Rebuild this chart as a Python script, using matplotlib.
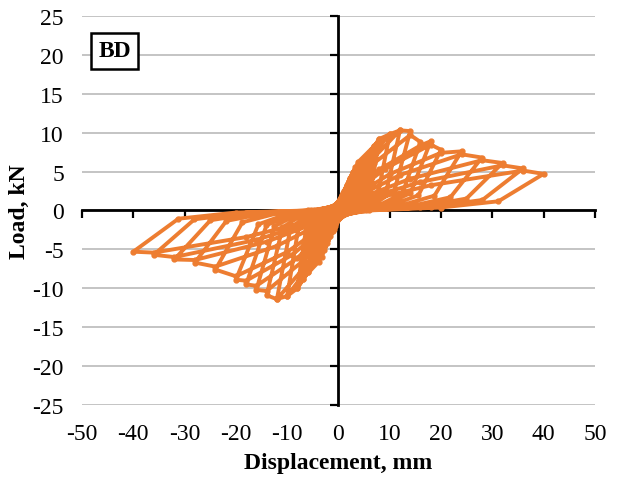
import matplotlib
matplotlib.use("Agg")
import matplotlib.pyplot as plt

# ---------------- data ----------------
# one row per loading cycle: positive half then negative half
displacement = [
    0.0,
    0.3, 0.6, 1.0, 0.78, 0.5, 0.15, -0.3, -0.6, -1.0, -0.78, -0.5, -0.15,
    0.15, 0.55, 1.0, 2.0, 1.56, 1.0, 0.3, -0.15, -0.55, -1.0, -2.0, -1.56, -1.0, -0.3,
    0.3, 1.1, 2.0, 3.0, 2.34, 1.5, 0.45, -0.3, -1.1, -2.0, -3.0, -2.34, -1.5, -0.45,
    0.45, 1.65, 3.0, 4.0, 3.12, 2.0, 0.6, -0.45, -1.65, -3.0, -4.0, -3.12, -2.0, -0.6,
    0.6, 2.2, 4.0, 5.0, 3.9, 2.5, 0.75, -0.6, -2.2, -4.0, -5.0, -3.9, -2.5, -0.75,
    0.75, 2.75, 5.0, 6.0, 4.68, 3.0, 0.9, -0.75, -2.75, -5.0, -6.0, -4.68, -3.0, -0.9,
    0.9, 3.3, 6.0, 7.0, 5.46, 3.5, 1.05, -0.9, -3.3, -6.0, -7.0, -5.46, -3.5, -1.05,
    1.05, 3.85, 7.0, 8.0, 6.24, 4.0, 1.2, -1.05, -3.85, -7.0, -8.0, -6.24, -4.0, -1.2,
    0.96, 4.0, 8.0, 10.0, 7.8, 5.0, 1.5, -0.96, -4.0, -8.0, -10.0, -7.8, -5.0, -1.5,
    1.2, 5.0, 10.0, 12.0, 9.36, 6.0, 1.8, -1.2, -5.0, -10.0, -12.0, -9.36, -6.0, -1.8,
    1.44, 6.0, 12.0, 14.0, 10.92, 7.0, 2.1, -1.44, -6.0, -12.0, -14.0, -10.92, -7.0, -2.1,
    1.68, 7.0, 14.0, 16.0, 12.48, 8.0, 2.4, -1.68, -7.0, -14.0, -16.0, -12.48, -8.0, -2.4,
    1.92, 8.0, 16.0, 18.0, 14.04, 9.0, 2.7, -1.92, -8.0, -16.0, -18.0, -14.04, -9.0, -2.7,
    2.16, 9.0, 18.0, 20.0, 15.6, 10.0, 3.0, -2.16, -9.0, -18.0, -20.0, -15.6, -10.0, -3.0,
    2.4, 10.0, 20.0, 24.0, 18.72, 12.0, 3.6, -2.4, -10.0, -20.0, -24.0, -18.72, -12.0, -3.6,
    2.88, 12.0, 24.0, 28.0, 21.84, 14.0, 4.2, -2.88, -12.0, -24.0, -28.0, -21.84, -14.0, -4.2,
    3.36, 14.0, 28.0, 32.0, 24.96, 16.0, 4.8, -3.36, -14.0, -28.0, -32.0, -24.96, -16.0, -4.8,
    3.84, 16.0, 32.0, 36.0, 28.08, 18.0, 5.4, -3.84, -16.0, -32.0, -36.0, -28.08, -18.0, -5.4,
    4.32, 18.0, 36.0, 40.0, 31.2, 20.0, 6.0, -4.32, -18.0, -36.0, -40.0, -31.2, -20.0, -6.0,
]
load = [
    0.0,
    0.8, 1.4, 1.8, 0.45, 0.14, 0.0, -0.7, -1.2, -1.6, -0.32, -0.08, 0.0,
    0.54, 1.35, 1.8, 3.2, 0.8, 0.26, 0.0, -0.48, -1.2, -1.6, -3.0, -0.6, -0.15, 0.0,
    0.96, 2.4, 3.2, 4.4, 1.1, 0.35, 0.0, -0.9, -2.25, -3.0, -4.3, -0.86, -0.22, 0.0,
    1.32, 3.3, 4.4, 5.5, 1.38, 0.44, 0.0, -1.29, -3.23, -4.3, -5.6, -1.12, -0.28, 0.0,
    1.65, 4.13, 5.5, 6.5, 1.63, 0.52, 0.0, -1.68, -4.2, -5.6, -6.8, -1.36, -0.34, 0.0,
    1.95, 4.88, 6.5, 7.4, 1.85, 0.59, 0.0, -2.04, -5.1, -6.8, -7.9, -1.58, -0.4, 0.0,
    2.22, 5.55, 7.4, 8.3, 2.08, 0.66, 0.0, -2.37, -5.93, -7.9, -8.8, -1.76, -0.44, 0.0,
    2.49, 6.23, 8.3, 9.2, 2.3, 0.74, 0.0, -2.64, -6.6, -8.8, -10.0, -2.0, -0.5, 0.0,
    1.84, 5.52, 9.2, 9.8, 2.45, 0.78, 0.0, -2.0, -6.0, -10.0, -11.0, -2.2, -0.55, 0.0,
    1.96, 5.88, 9.8, 10.3, 2.58, 0.82, 0.0, -2.2, -6.6, -11.0, -11.4, -2.28, -0.57, 0.0,
    2.06, 6.18, 10.3, 10.2, 2.55, 0.82, 0.0, -2.28, -6.84, -11.4, -10.9, -2.18, -0.55, 0.0,
    2.04, 6.12, 9.7, 8.8, 2.2, 0.7, 0.0, -2.18, -6.54, -10.35, -10.2, -2.04, -0.51, 0.0,
    1.76, 5.28, 8.36, 8.9, 2.23, 0.71, 0.0, -2.04, -6.12, -9.69, -9.5, -1.9, -0.48, 0.0,
    1.78, 5.34, 8.46, 7.8, 1.95, 0.62, 0.0, -1.9, -5.7, -9.03, -8.9, -1.78, -0.45, 0.0,
    1.56, 4.68, 7.41, 7.6, 1.9, 0.61, 0.0, -1.78, -5.34, -8.46, -7.6, -1.52, -0.38, 0.0,
    1.52, 4.56, 7.22, 6.8, 1.7, 0.54, 0.0, -1.52, -4.56, -7.22, -6.7, -1.34, -0.34, 0.0,
    1.36, 4.08, 6.46, 6.1, 1.53, 0.49, 0.0, -1.34, -4.02, -6.37, -6.3, -1.26, -0.32, 0.0,
    1.22, 3.66, 5.8, 5.4, 1.35, 0.43, 0.0, -1.26, -3.78, -5.99, -5.7, -1.14, -0.29, 0.0,
    1.08, 3.24, 5.13, 4.7, 1.18, 0.38, 0.0, -1.14, -3.42, -5.42, -5.3, -1.06, -0.27, 0.0,
]
x_ticks = [-50, -40, -30, -20, -10, 0, 10, 20, 30, 40, 50]
y_ticks = [-25, -20, -15, -10, -5, 0, 5, 10, 15, 20, 25]
x_label = "Displacement, mm"
y_label = "Load, kN"
specimen = "BD"

# ---------------- figure ----------------
plt.rcParams['font.family'] = ['Liberation Serif', 'DejaVu Serif']
fig = plt.figure(figsize=(6.19, 4.85), dpi=100)
pos = [0.1325, 0.163, 0.8285, 0.802]

ax = fig.add_axes(pos)
ax.set_xlim(-50, 50)
ax.set_ylim(-25, 25)
ax.set_xticks(x_ticks)
ax.set_yticks(y_ticks)
ax.set_xticklabels([str(v) for v in x_ticks])
ax.set_yticklabels([str(v) for v in y_ticks])
ax.tick_params(length=0, labelsize=17, pad=13)
for s in ax.spines.values():
    s.set_visible(False)
ax.yaxis.grid(True, color='#BFBFBF', linewidth=1.3)
ax.set_axisbelow(True)
ax.set_xlabel(x_label, fontsize=17, fontweight='bold', labelpad=6)
ax.set_ylabel(y_label, fontsize=17, fontweight='bold', labelpad=2)

# overlay axes with spines through the origin
ax2 = fig.add_axes(pos, sharex=ax, sharey=ax)
ax2.patch.set_visible(False)
ax2.spines['top'].set_visible(False)
ax2.spines['right'].set_visible(False)
ax2.spines['left'].set_position(('data', 0))
ax2.spines['bottom'].set_position(('data', 0))
ax2.spines['left'].set_linewidth(2)
ax2.spines['bottom'].set_linewidth(2)
ax2.tick_params(direction='out', length=6, width=1.6, labelleft=False, labelbottom=False)

ax2.plot(displacement, load, color='#ED7D31', linewidth=2.8,
         marker='o', markersize=3.5, solid_joinstyle='round', zorder=3)

ax2.text(-46.8, 20.5, specimen, fontsize=17, fontweight='bold', ha='left', va='center',
         bbox=dict(boxstyle='square,pad=0.3', facecolor='white', edgecolor='black', linewidth=1.8),
         zorder=5)

fig.savefig("out.png", dpi=100)
